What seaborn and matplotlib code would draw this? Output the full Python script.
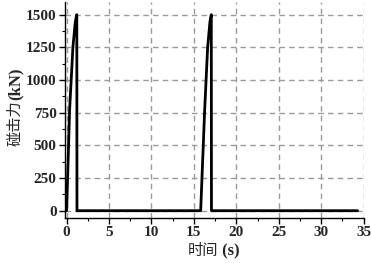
import numpy as np
import pandas as pd
import seaborn as sns
import matplotlib.pyplot as plt
from matplotlib.ticker import MultipleLocator

# impact force time history
time_s = [0.0, 0.35, 0.74, 1.0, 1.15, 1.2, 1.22,
          15.8, 16.27, 16.62, 16.9, 17.05, 17.07, 34.3]
force_kn = [0, 770, 1250, 1430, 1490, 1500, 0,
            0, 770, 1250, 1450, 1500, 0, 0]

df = pd.DataFrame({'time': time_s, 'force': force_kn})

sns.set_style('ticks')
plt.rcParams['font.family'] = ['Liberation Serif', 'Noto Sans CJK SC']

fig = plt.figure(figsize=(3.71, 2.63), dpi=100)
ax = fig.add_axes([0.175, 0.171, 0.805, 0.823])

sns.lineplot(data=df, x='time', y='force', sort=False, color='black',
             linewidth=2, ax=ax)

ax.set_xlim(-0.2, 35)
ax.set_ylim(-56, 1600)
ax.xaxis.set_major_locator(MultipleLocator(5))
ax.xaxis.set_minor_locator(MultipleLocator(2.5))
ax.yaxis.set_major_locator(MultipleLocator(250))
ax.yaxis.set_minor_locator(MultipleLocator(125))
ax.grid(True, which='major', color='#9a9a9a', linestyle=(0, (4, 3)), linewidth=1)

for s in ['top', 'right']:
    ax.spines[s].set_visible(False)
for s in ['left', 'bottom']:
    ax.spines[s].set_color('black')
    ax.spines[s].set_linewidth(1)

ax.tick_params(which='major', direction='out', length=4, width=1, labelsize=11,
               color='black', pad=2)
ax.tick_params(which='minor', direction='out', length=2.5, width=0.8, color='black')
for lab in ax.get_xticklabels() + ax.get_yticklabels():
    lab.set_fontweight('bold')
ax.set_xlabel('')
ax.set_ylabel('')

# axis titles: chinese part regular, unit part bold
fig.text(0.588, 0.03, '时间', fontsize=11, ha='right', va='baseline')
fig.text(0.588, 0.03, ' (s)', fontsize=12, fontweight='bold', ha='left', va='baseline')

fig.text(0.052, 0.62, '碰击力', fontsize=11, rotation=90,
         ha='right', va='baseline', rotation_mode='anchor')
fig.text(0.052, 0.62, '(kN)', fontsize=12, fontweight='bold', rotation=90,
         ha='left', va='baseline', rotation_mode='anchor')

fig.savefig('out.png', dpi=100)
